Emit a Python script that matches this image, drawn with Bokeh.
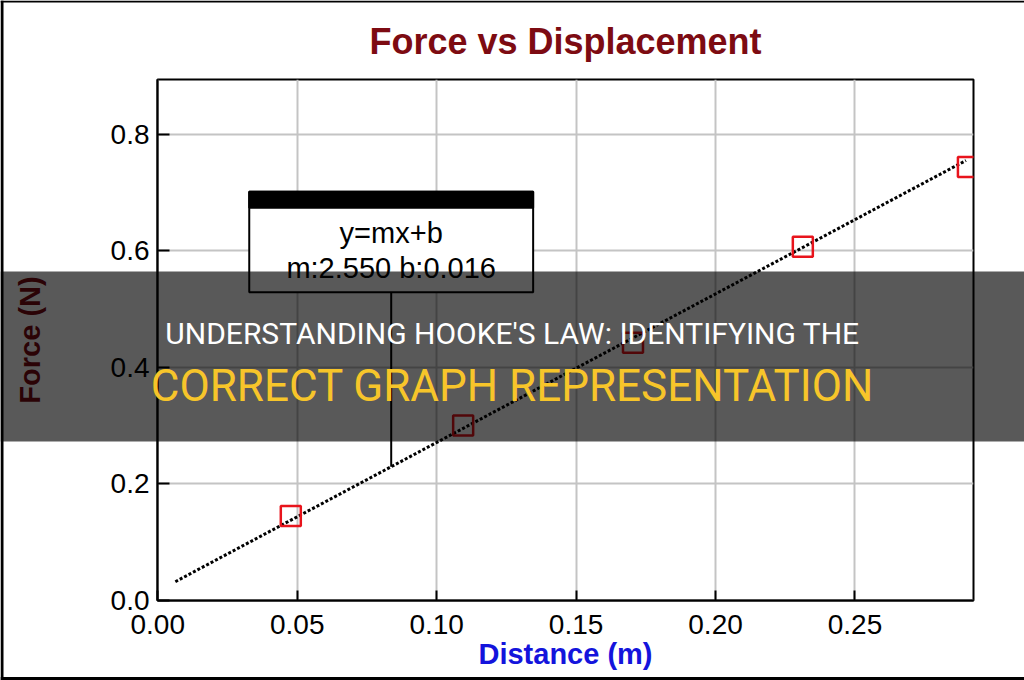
from bokeh.plotting import figure
from bokeh.models import Range1d, FixedTicker, CustomJSTickFormatter, GridBox
from bokeh.embed import file_html
from bokeh.resources import INLINE
from bokeh.core.properties import value

# ---- data ----
title_text = "Force vs Displacement"
x_label = "Distance (m)"
y_label = "Force (N)"
distance = [0.0477, 0.1095, 0.1704, 0.2313, 0.2905]
force = [0.145, 0.300, 0.442, 0.607, 0.744]
fit_m = 2.550
fit_b = 0.016
fit_x = [0.0063, 0.2898]
x_ticks = [0.00, 0.05, 0.10, 0.15, 0.20, 0.25]
y_ticks = [0.0, 0.2, 0.4, 0.6, 0.8]
fit_box_lines = ["y=mx+b", "m:2.550 b:0.016"]
headline = ["UNDERSTANDING HOOKE'S LAW: IDENTIFYING THE", "CORRECT GRAPH REPRESENTATION"]

# ---- layout ----
W, H = 1024, 680
FL, FR, FT, FB = 157, 973, 79, 600

p = figure(width=W, height=H, x_range=Range1d(-0.0001, 0.2925), y_range=Range1d(-0.0002, 0.894),
           output_backend="svg", toolbar_location=None,
           min_border_left=FL, min_border_right=W - FR, min_border_top=FT, min_border_bottom=H - FB)
p.background_fill_color = "white"
p.border_fill_color = "white"
p.outline_line_color = "black"
p.outline_line_width = 2

p.title.text = title_text
p.title.align = "center"
p.title.text_font = "Liberation Sans"
p.title.text_font_style = "bold"
p.title.text_font_size = "36px"
p.title.text_color = "#7d0b12"
p.title.standoff = 36

for ax, ticks in ((p.xaxis, x_ticks), (p.yaxis, y_ticks)):
    ax.ticker = FixedTicker(ticks=ticks)
    ax.axis_line_color = "black"
    ax.axis_line_width = 2
    ax.major_tick_line_color = "black"
    ax.major_tick_line_width = 2
    ax.major_tick_out = 0
    ax.minor_tick_line_color = None
    ax.major_label_text_font = "Liberation Sans"
    ax.major_label_text_font_size = "28px"
    ax.major_label_text_color = "black"
    ax.axis_label_text_font = "Liberation Sans"
    ax.axis_label_text_font_style = "bold"
    ax.axis_label_text_font_size = "29px"
p.xaxis.major_tick_in = 10
p.yaxis.major_tick_in = 12
p.xaxis.major_label_standoff = 14
p.yaxis.major_label_standoff = 8
p.xaxis.formatter = CustomJSTickFormatter(code="return tick.toFixed(2)")
p.yaxis.formatter = CustomJSTickFormatter(code="return tick.toFixed(1)")
p.xaxis.axis_label = x_label
p.xaxis.axis_label_text_color = "#1414dc"
p.xaxis.axis_label_standoff = 1
p.yaxis.axis_label = y_label
p.yaxis.axis_label_text_color = "#7d0b12"
p.yaxis.axis_label_standoff = 62

p.xgrid.ticker = FixedTicker(ticks=x_ticks)
p.ygrid.ticker = FixedTicker(ticks=y_ticks)
p.grid.grid_line_color = "#c4c4c4"
p.grid.grid_line_width = 2

# fit line
fit_y = [fit_m * x + fit_b for x in fit_x]
p.line(fit_x, fit_y, line_color="black", line_width=3, line_dash="3 2")

# data markers
p.scatter(distance, force, marker="square", size=20, fill_color=None,
          line_color="#e8141c", line_width=2.5)

# fit result box (data units)
box_left, box_right, box_bottom, box_top, bar_bottom = 0.0328, 0.1346, 0.529, 0.7012, 0.674
box_cx = (box_left + box_right) / 2
p.line([box_cx, box_cx], [box_bottom, fit_m * box_cx + fit_b], line_color="black", line_width=2)
p.quad(left=[box_left], right=[box_right], bottom=[box_bottom], top=[box_top],
       fill_color="white", line_color="black", line_width=2)
p.quad(left=[box_left], right=[box_right], bottom=[bar_bottom], top=[box_top],
       fill_color="black", line_color="black", line_width=2)
p.text(x=[box_cx, box_cx], y=[0.630, 0.570], text=fit_box_lines,
       text_font=value("Liberation Sans"), text_font_size="29px",
       text_align="center", text_baseline="middle", text_color="black")

# ---- overlay figure (page banner), same size, stacked in the same grid cell ----
ov = figure(width=W, height=H, x_range=Range1d(0, W), y_range=Range1d(H, 0),
            x_axis_type=None, y_axis_type=None, output_backend="svg", toolbar_location=None,
            min_border=0)
ov.background_fill_color = None
ov.border_fill_color = None
ov.outline_line_color = None
ov.grid.visible = False
for fig in (p, ov):
    try:
        fig.frame_align = False
    except Exception:
        pass

band_top, band_bottom = 271, 441
ov.quad(left=[0], right=[W], top=[band_top], bottom=[band_bottom],
        fill_color="black", fill_alpha=0.65, line_color=None)
ov.text(x=[512], y=[333], text=[headline[0]], text_font=value("Roboto"), text_font_size="30px",
        text_color="white", text_align="center", text_baseline="middle")
ov.text(x=[512], y=[385], text=[headline[1]], text_font=value("Roboto"), text_font_size="44px",
        text_color="#f7c52a", text_align="center", text_baseline="middle")
# page frame edges
ov.line([1.5, 1.5], [0, H], line_color="black", line_width=3)
ov.line([0, W], [1, 1], line_color="black", line_width=2)
ov.line([0, W], [H - 2, H - 2], line_color="black", line_width=3)

grid = GridBox(children=[(p, 0, 0), (ov, 0, 0)])
open("out.html", "w").write(file_html(grid, INLINE))
